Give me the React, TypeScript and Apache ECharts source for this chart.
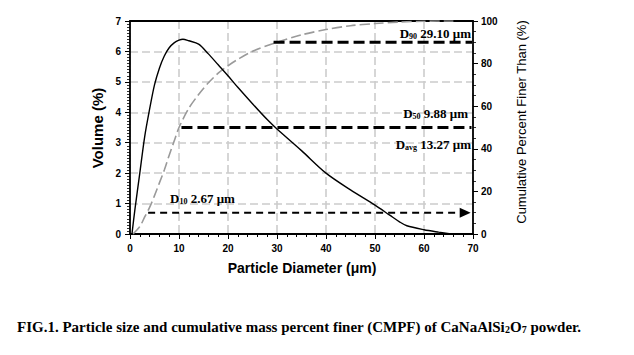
import React, { useEffect, useRef } from "react";
import * as echarts from "echarts";

// Volume distribution (%), left axis
const volX = [0.4, 1, 2, 3, 4, 5, 6, 7, 8, 9, 10, 10.8, 12, 14, 16, 18, 20, 22, 25, 28, 30, 35, 40, 45, 50, 53, 55, 56.5, 60, 63, 65.5];
const volY = [0, 0.8, 2.0, 3.2, 4.1, 4.9, 5.45, 5.85, 6.12, 6.28, 6.37, 6.4, 6.35, 6.24, 5.92, 5.56, 5.2, 4.82, 4.28, 3.76, 3.45, 2.74, 2.0, 1.45, 0.95, 0.62, 0.4, 0.27, 0.14, 0.06, 0];

// Cumulative percent finer (%), right axis
const cumX = [0.6, 2, 3, 4, 5, 6, 7, 8, 9, 10, 12, 14, 16, 18, 20, 22, 25, 30, 35, 40, 45, 50, 55, 60, 66];
const cumY = [0, 3.5, 8, 12.5, 18, 24, 30, 37, 43.5, 50, 59, 65.5, 71, 75.5, 79, 82, 85.8, 90, 93.5, 96, 97.8, 98.8, 99.5, 99.9, 100];

// Annotation lines (percent finer levels) D90, D50, D10
const annotPct = [90, 50, 10];
const annotStartX = [29.3, 10.5, 3.7];
const annotEndX = [69.8, 69.7, 68.4];

const dSubs = ["90", "50", "avg", "10"];
const dValues = ["29.10 μm", "9.88 μm", "13.27 μm", "2.67 μm"];

const xTickMax = 70;
const yLeftMax = 7;
const yRightMax = 100;

export default function App() {
  const ref = useRef<HTMLDivElement>(null);
  useEffect(() => {
    if (!ref.current) return;
    const chart = echarts.init(ref.current, null, { renderer: "svg" });
    const sans = '"Liberation Sans", Arial, sans-serif';
    const serif = '"Liberation Serif", "Times New Roman", serif';
    const dRich = {
      b: { fontFamily: serif, fontWeight: "bold", fontSize: 13, fill: "#000", verticalAlign: "bottom", lineHeight: 15 },
      s: { fontFamily: serif, fontWeight: "bold", fontSize: 8, fill: "#000", verticalAlign: "bottom", lineHeight: 15 },
    };
    const dText = (i: number) => `{b|D}{s|${dSubs[i]}}{b| ${dValues[i]}}`;
    const gridLine = () => ({ show: true, lineStyle: { color: "#cccccc", type: [8, 4], width: 1.6, opacity: 1 } });
    const axisLab = { color: "#000", fontFamily: sans, fontWeight: "bold", fontSize: 10 };

    const annotSeries = annotPct.map((p, i) => {
      const isArrow = i === 2;
      return {
        type: "line",
        xAxisIndex: 0,
        yAxisIndex: 1,
        silent: true,
        showSymbol: true,
        symbol: "none",
        lineStyle: { color: "#000", width: isArrow ? 2 : 3, type: isArrow ? [7, 5] : [11, 5] },
        data: [
          { value: [annotStartX[i], p], symbol: "none" },
          isArrow
            ? { value: [annotEndX[i], p], symbol: "triangle", symbolRotate: -90, symbolSize: [10, 11], itemStyle: { color: "#000" } }
            : { value: [annotEndX[i], p], symbol: "none" },
        ],
        z: 5,
      };
    });

    chart.setOption({
      animation: false,
      backgroundColor: "#fff",
      grid: { left: 130, right: 161, top: 21, bottom: 121 },
      xAxis: [
        {
          type: "value",
          min: 0,
          max: xTickMax,
          interval: 10,
          axisLine: { show: true, onZero: false, lineStyle: { color: "#000", width: 1.8 } },
          axisTick: { show: true, length: 5, lineStyle: { color: "#000", width: 1 } },
          minorTick: { show: true, splitNumber: 5, length: 3, lineStyle: { color: "#000", width: 1 } },
          axisLabel: { ...axisLab, margin: 9 },
          splitLine: gridLine(),
          z: 1,
        },
        {
          type: "value",
          position: "top",
          min: 0,
          max: xTickMax,
          axisLine: { show: true, onZero: false, lineStyle: { color: "#000", width: 1.8 } },
          axisTick: { show: false },
          axisLabel: { show: false },
          splitLine: { show: false },
          z: 2,
        },
      ],
      yAxis: [
        {
          type: "value",
          min: 0,
          max: yLeftMax,
          interval: 1,
          axisLine: { show: true, onZero: false, lineStyle: { color: "#000", width: 1.8 } },
          axisTick: { show: true, length: 5, lineStyle: { color: "#000", width: 1 } },
          minorTick: { show: true, splitNumber: 10, length: 3, lineStyle: { color: "#000", width: 0.8 } },
          axisLabel: { ...axisLab, margin: 9 },
          splitLine: gridLine(),
          z: 1,
        },
        {
          type: "value",
          position: "right",
          min: 0,
          max: yRightMax,
          interval: 20,
          axisLine: { show: true, onZero: false, lineStyle: { color: "#000", width: 1.8 } },
          axisTick: { show: true, length: 5, lineStyle: { color: "#000", width: 1 } },
          minorTick: { show: true, splitNumber: 4, length: 3, lineStyle: { color: "#000", width: 0.8 } },
          axisLabel: { ...axisLab, margin: 8 },
          splitLine: { show: false },
          z: 2,
        },
      ],
      series: [
        {
          type: "line",
          name: "Cumulative",
          yAxisIndex: 1,
          smooth: 0.3,
          showSymbol: false,
          symbol: "none",
          lineStyle: { color: "#9a9a9a", width: 1.6, type: [10, 4] },
          data: cumX.map((x, i) => [x, cumY[i]]),
          z: 3,
        },
        {
          type: "line",
          name: "Volume",
          yAxisIndex: 0,
          smooth: 0.3,
          showSymbol: false,
          symbol: "none",
          lineStyle: { color: "#000", width: 1.4 },
          data: volX.map((x, i) => [x, volY[i]]),
          z: 4,
        },
        ...annotSeries,
      ],
      graphic: [
        {
          type: "text", x: 97, y: 128, rotation: Math.PI / 2,
          style: { text: "Volume (%)", font: `bold 15px ${sans}`, fill: "#000", align: "center", verticalAlign: "middle" },
        },
        {
          type: "text", x: 521, y: 122, rotation: Math.PI / 2,
          style: { text: "Cumulative Percent Finer Than (%)", font: `13px ${sans}`, fill: "#000", align: "center", verticalAlign: "middle" },
        },
        {
          type: "text", x: 302, y: 268,
          style: { text: "Particle Diameter (μm)", font: `bold 14px ${sans}`, fill: "#000", align: "center", verticalAlign: "middle" },
        },
        { type: "text", x: 471, y: 40, z: 10, style: { text: dText(0), rich: dRich, align: "right", verticalAlign: "bottom" } },
        { type: "text", x: 468, y: 120, z: 10, style: { text: dText(1), rich: dRich, align: "right", verticalAlign: "bottom" } },
        { type: "text", x: 471, y: 151, z: 10, style: { text: dText(2), rich: dRich, align: "right", verticalAlign: "bottom" } },
        { type: "text", x: 170, y: 205, z: 10, style: { text: dText(3), rich: dRich, align: "left", verticalAlign: "bottom" } },
        {
          type: "text", x: 17, y: 334,
          style: {
            text: "{t|FIG.1. Particle size and cumulative mass percent finer (CMPF) of CaNaAlSi}{s|2}{t|O}{s|7}{t| powder.}",
            align: "left", verticalAlign: "bottom",
            rich: {
              t: { fontFamily: serif, fontWeight: "bold", fontSize: 15, fill: "#000", verticalAlign: "bottom", lineHeight: 17 },
              s: { fontFamily: serif, fontWeight: "bold", fontSize: 10, fill: "#000", verticalAlign: "bottom", lineHeight: 17 },
            },
          },
        },
      ],
    });
    return () => chart.dispose();
  }, []);
  return (
    <div
      ref={ref}
      style={{ position: "absolute", left: 0, top: 0, width: 634, height: 355, background: "#fff" }}
    />
  );
}
